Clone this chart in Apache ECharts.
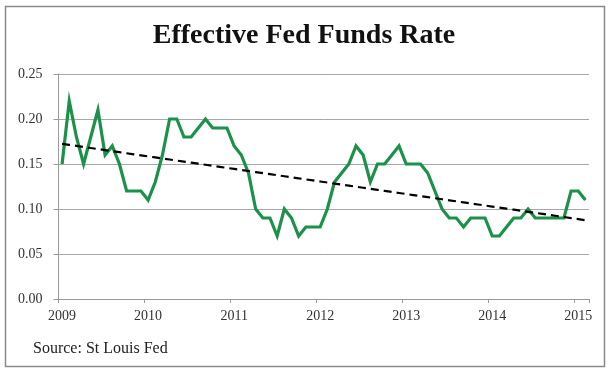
<!DOCTYPE html>
<html>
<head>
<meta charset="utf-8">
<script src="https://cdn.jsdelivr.net/npm/echarts@6/dist/echarts.min.js"></script>
<style>
html,body{margin:0;padding:0;background:#fff;}
#chart{width:608px;height:375px;}
</style>
</head>
<body>
<div id="chart"></div>
<script>
// Years covered (monthly data, Jan 2009 .. Feb 2015)
var years = ['2009','2010','2011','2012','2013','2014','2015'];
var monthsInLastYear = 2;

// Effective Fed Funds Rate, monthly (%)
var rate2009 = [0.15,0.22,0.18,0.15,0.18,0.21,0.16,0.17,0.15,0.12,0.12,0.12];
var rate2010 = [0.11,0.13,0.16,0.20,0.20,0.18,0.18,0.19,0.20,0.19,0.19,0.19];
var rate2011 = [0.17,0.16,0.14,0.10,0.09,0.09,0.07,0.10,0.09,0.07,0.08,0.08];
var rate2012 = [0.08,0.10,0.13,0.14,0.15,0.17,0.16,0.13,0.15,0.15,0.16,0.17];
var rate2013 = [0.15,0.15,0.15,0.14,0.12,0.10,0.09,0.09,0.08,0.09,0.09,0.09];
var rate2014 = [0.07,0.07,0.08,0.09,0.09,0.10,0.09,0.09,0.09,0.09,0.09,0.12];
var rate2015 = [0.12,0.11];

var yTicks = [0, 0.05, 0.10, 0.15, 0.20, 0.25];

var titleText = 'Effective Fed Funds Rate';
var sourceText = 'Source: St Louis Fed';

// Build the category list (one per month)
var categories = [];
years.forEach(function (y, yi) {
  var n = (yi === years.length - 1) ? monthsInLastYear : 12;
  for (var m = 1; m <= n; m++) categories.push(y + '-' + (m < 10 ? '0' + m : m));
});
var rates = [].concat(rate2009, rate2010, rate2011, rate2012, rate2013, rate2014, rate2015);

// Linear trend (least squares) over the series
var n = rates.length, sx = 0, sy = 0, sxx = 0, sxy = 0;
for (var i = 0; i < n; i++) { sx += i; sy += rates[i]; sxx += i * i; sxy += i * rates[i]; }
var slope = (n * sxy - sx * sy) / (n * sxx - sx * sx);
var icpt = (sy - slope * sx) / n;
var trend = rates.map(function (_, i) { return icpt + slope * i; });

var serif = '"Liberation Serif", "DejaVu Serif", serif';
var chart = echarts.init(document.getElementById('chart'), null, {renderer: 'canvas'});
chart.setOption({
  animation: false,
  backgroundColor: '#ffffff',
  grid: {left: 58.5, right: 19, top: 74, bottom: 76, containLabel: false},
  xAxis: {
    type: 'category',
    data: categories,
    boundaryGap: true,
    axisLine: {lineStyle: {color: '#9a9a9a', width: 1}},
    axisTick: {show: true, interval: 11, length: 4, lineStyle: {color: '#9a9a9a'}},
    axisLabel: {
      interval: 11, margin: 10,
      color: '#333', fontFamily: serif, fontSize: 14,
      formatter: function (v) { return v.slice(0, 4); }
    },
    splitLine: {show: false}
  },
  yAxis: {
    type: 'value',
    min: yTicks[0], max: yTicks[yTicks.length - 1], interval: yTicks[1] - yTicks[0],
    axisLine: {show: true, lineStyle: {color: '#9a9a9a', width: 1}},
    axisTick: {show: true, length: 5, lineStyle: {color: '#9a9a9a'}},
    axisLabel: {
      margin: 16, color: '#333', fontFamily: serif, fontSize: 14,
      formatter: function (v) { return v.toFixed(2); }
    },
    splitLine: {show: true, lineStyle: {color: '#a8a8a8', width: 1}}
  },
  series: [
    {
      type: 'line', data: rates, symbol: 'none',
      lineStyle: {color: '#1b9149', width: 3.2, join: 'miter'},
      z: 3
    },
    {
      type: 'line', data: trend, symbol: 'none',
      lineStyle: {color: '#000000', width: 2.2, type: [8, 5]},
      z: 4
    }
  ],
  graphic: [
    {type: 'rect', shape: {x: 5.5, y: 6.5, width: 599, height: 360}, style: {fill: null, stroke: '#8a8a8a', lineWidth: 1.5}, silent: true, z: -1},
    {type: 'text', left: 'center', top: 22, style: {text: titleText, font: 'bold 28px ' + serif, fill: '#111'}},
    {type: 'text', left: 33, top: 341, style: {text: sourceText, font: '16px ' + serif, fill: '#222'}}
  ]
});
</script>
</body>
</html>
